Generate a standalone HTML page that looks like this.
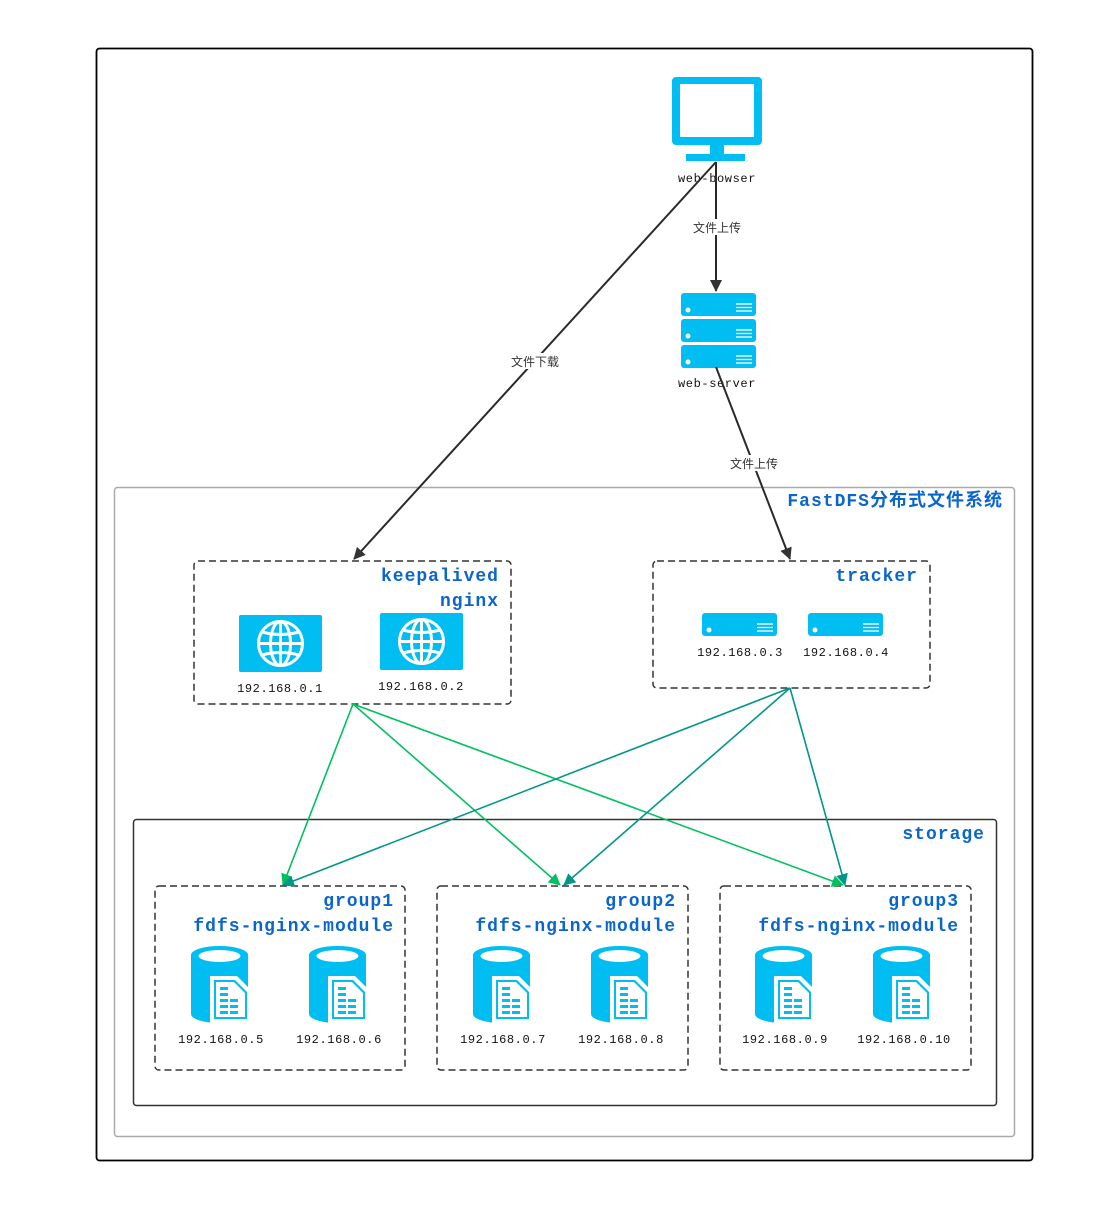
<!DOCTYPE html>
<html><head><meta charset="utf-8"><style>
html,body{margin:0;padding:0;background:#fff}
svg{display:block}
.t{font-family:"Liberation Mono","Noto Sans CJK SC",monospace;font-weight:bold;fill:#0a66cc;font-size:18px;letter-spacing:1px}
.s{font-family:"Liberation Mono","Noto Sans CJK SC",monospace;fill:#111;font-size:12px;letter-spacing:0.6px}
.l{font-family:"Liberation Sans","Noto Sans CJK SC",sans-serif;fill:#333;font-size:12px}
</style></head><body>
<svg width="1096" height="1223" viewBox="0 0 1096 1223" xmlns="http://www.w3.org/2000/svg">
<defs>
<marker id="ab" markerWidth="12" markerHeight="12" refX="11" refY="6" orient="auto" markerUnits="userSpaceOnUse" viewBox="0 0 12 12"><path d="M0,0 L12,6 L0,12 Z" fill="#333"/></marker>
<marker id="ag" markerWidth="12" markerHeight="12" refX="11" refY="6" orient="auto" markerUnits="userSpaceOnUse" viewBox="0 0 12 12"><path d="M0,0 L12,6 L0,12 Z" fill="#00c060"/></marker>
<marker id="at" markerWidth="12" markerHeight="12" refX="11" refY="6" orient="auto" markerUnits="userSpaceOnUse" viewBox="0 0 12 12"><path d="M0,0 L12,6 L0,12 Z" fill="#009688"/></marker>
<g id="cyl">
<path d="M0,9 A28.5,9 0 0 1 57,9 L57,68 A28.5,9 0 0 1 0,68 Z" fill="#00bdf2"/>
<ellipse cx="28.5" cy="10" rx="21" ry="6" fill="#fff"/>
<path d="M19,30 L46,30 L60,44 L60,77 L19,77 Z" fill="#fff"/>
<path d="M23,34 L44,34 L56,46 L56,73 L23,73 Z" fill="#00bdf2"/>
<path d="M25,36 L43,36 L54,47 L54,71 L25,71 Z" fill="#fff"/>
<g fill="#00bdf2"><rect x="29" y="41" width="8" height="3"/><rect x="29" y="47" width="8" height="3"/><rect x="29" y="53" width="8" height="3"/><rect x="39" y="53" width="8" height="3"/><rect x="29" y="59" width="8" height="3"/><rect x="39" y="59" width="8" height="3"/><rect x="29" y="65" width="8" height="3"/><rect x="39" y="65" width="8" height="3"/></g>
</g>
<g id="srv">
<rect x="0" y="0" width="75" height="23" rx="3" fill="#00bdf2"/>
<circle cx="7" cy="17" r="2.5" fill="#fff"/>
<g stroke="#fff" stroke-width="1.3"><line x1="55" y1="11" x2="71" y2="11"/><line x1="55" y1="14.5" x2="71" y2="14.5"/><line x1="55" y1="18" x2="71" y2="18"/></g>
</g>
<g id="glb">
<rect x="0" y="0" width="83" height="57" rx="2" fill="#00bdf2"/>
<g fill="none" stroke="#fff" stroke-width="3">
<circle cx="41.5" cy="28.5" r="22"/>
<ellipse cx="41.5" cy="28.5" rx="10" ry="22"/>
<line x1="41.5" y1="6.5" x2="41.5" y2="50.5"/>
<path d="M23,17 Q41.5,22 60,17"/><path d="M19.5,28.5 L63.5,28.5"/><path d="M23,40 Q41.5,35 60,40"/>
</g>
</g>
</defs>

<rect x="96.5" y="48.5" width="936" height="1112" rx="3" fill="none" stroke="#000" stroke-width="1.8"/>
<rect x="114.5" y="487.5" width="900" height="649" rx="3" fill="none" stroke="#aaa" stroke-width="1.5"/>
<text class="t" x="1003" y="506" text-anchor="end">FastDFS分布式文件系统</text>

<rect x="194" y="561" width="317" height="143" rx="4" fill="none" stroke="#333" stroke-width="1.5" stroke-dasharray="7,4"/>
<text class="t" x="499" y="581" text-anchor="end">keepalived</text>
<text class="t" x="499" y="606" text-anchor="end">nginx</text>
<use href="#glb" x="239" y="615"/>
<use href="#glb" x="380" y="613"/>
<text class="s" x="280" y="692" text-anchor="middle">192.168.0.1</text>
<text class="s" x="421" y="690" text-anchor="middle">192.168.0.2</text>

<rect x="653" y="561" width="277" height="127" rx="4" fill="none" stroke="#333" stroke-width="1.5" stroke-dasharray="7,4"/>
<text class="t" x="918" y="581" text-anchor="end">tracker</text>
<use href="#srv" x="702" y="613"/>
<use href="#srv" x="808" y="613"/>
<text class="s" x="740" y="656" text-anchor="middle">192.168.0.3</text>
<text class="s" x="846" y="656" text-anchor="middle">192.168.0.4</text>

<rect x="133.5" y="819.5" width="863" height="286" rx="3" fill="none" stroke="#333" stroke-width="1.5"/>
<text class="t" x="985" y="839" text-anchor="end">storage</text>

<g>
<rect x="155" y="886" width="250" height="184" rx="4" fill="none" stroke="#333" stroke-width="1.5" stroke-dasharray="7,4"/>
<text class="t" x="394" y="906" text-anchor="end">group1</text>
<text class="t" x="394" y="931" text-anchor="end">fdfs-nginx-module</text>
<use href="#cyl" x="191" y="946"/><use href="#cyl" x="309" y="946"/>
<text class="s" x="221" y="1043" text-anchor="middle">192.168.0.5</text>
<text class="s" x="339" y="1043" text-anchor="middle">192.168.0.6</text>
</g>
<g>
<rect x="437" y="886" width="251" height="184" rx="4" fill="none" stroke="#333" stroke-width="1.5" stroke-dasharray="7,4"/>
<text class="t" x="676" y="906" text-anchor="end">group2</text>
<text class="t" x="676" y="931" text-anchor="end">fdfs-nginx-module</text>
<use href="#cyl" x="473" y="946"/><use href="#cyl" x="591" y="946"/>
<text class="s" x="503" y="1043" text-anchor="middle">192.168.0.7</text>
<text class="s" x="621" y="1043" text-anchor="middle">192.168.0.8</text>
</g>
<g>
<rect x="720" y="886" width="251" height="184" rx="4" fill="none" stroke="#333" stroke-width="1.5" stroke-dasharray="7,4"/>
<text class="t" x="959" y="906" text-anchor="end">group3</text>
<text class="t" x="959" y="931" text-anchor="end">fdfs-nginx-module</text>
<use href="#cyl" x="755" y="946"/><use href="#cyl" x="873" y="946"/>
<text class="s" x="785" y="1043" text-anchor="middle">192.168.0.9</text>
<text class="s" x="904" y="1043" text-anchor="middle">192.168.0.10</text>
</g>

<rect x="672" y="77" width="90" height="68" rx="4" fill="#00bdf2"/>
<rect x="680" y="84" width="74" height="53" fill="#fff"/>
<rect x="710" y="145" width="14" height="10" fill="#00bdf2"/>
<rect x="686" y="154" width="59" height="7" fill="#00bdf2"/>
<text class="s" x="717" y="182" text-anchor="middle">web-bowser</text>
<use href="#srv" x="681" y="293"/>
<use href="#srv" x="681" y="319"/>
<use href="#srv" x="681" y="345"/>
<text class="s" x="717" y="387" text-anchor="middle">web-server</text>

<g stroke="#2a2a2a" stroke-width="2" fill="none">
<line x1="716" y1="162" x2="716" y2="291" marker-end="url(#ab)"/>
<line x1="716" y1="162" x2="354" y2="559" marker-end="url(#ab)"/>
<line x1="716" y1="367" x2="790" y2="559" marker-end="url(#ab)"/>
</g>
<rect x="690" y="219" width="54" height="16" fill="#fff"/>
<text class="l" x="717" y="232" text-anchor="middle">文件上传</text>
<rect x="508" y="353" width="55" height="16" fill="#fff"/>
<text class="l" x="535" y="366" text-anchor="middle">文件下载</text>
<rect x="727" y="455" width="55" height="16" fill="#fff"/>
<text class="l" x="754" y="468" text-anchor="middle">文件上传</text>

<g stroke="#00c060" stroke-width="1.6" fill="none">
<line x1="353" y1="704" x2="283" y2="885" marker-end="url(#ag)"/>
<line x1="353" y1="704" x2="560" y2="885" marker-end="url(#ag)"/>
<line x1="353" y1="704" x2="843" y2="885" marker-end="url(#ag)"/>
</g>
<g stroke="#009688" stroke-width="1.6" fill="none">
<line x1="790" y1="688" x2="283" y2="885" marker-end="url(#at)"/>
<line x1="790" y1="688" x2="564" y2="885" marker-end="url(#at)"/>
<line x1="790" y1="688" x2="845" y2="885" marker-end="url(#at)"/>
</g>
</svg>
</body></html>
